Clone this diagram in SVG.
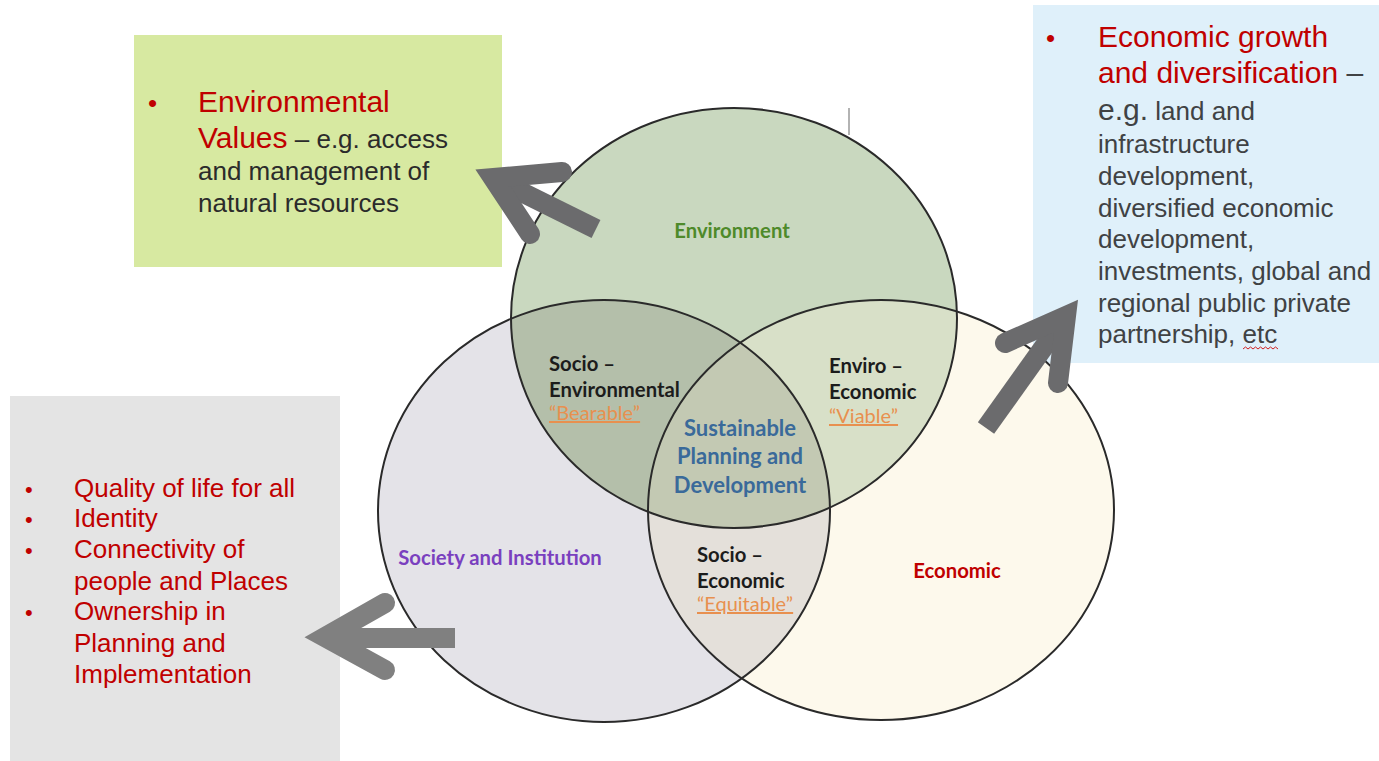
<svg xmlns="http://www.w3.org/2000/svg" width="1379" height="761" viewBox="0 0 1379 761">
<style>
.box-text{font-family:"Liberation Sans",Arial,sans-serif;}
.red{fill:#c00000;}
.dk{fill:#2b2b2b;}
.dg{fill:#404244;}
.lbl{font-family:Lato,"Open Sans",sans-serif;font-weight:bold;font-size:20.3px;fill:#1c1c1c;}
.q{font-family:Lato,"Open Sans",sans-serif;font-size:20px;fill:#e8904f;text-decoration:underline;}
.outline{fill:none;stroke:#2a2a2a;stroke-width:2;}
.barb{fill:none;stroke-linecap:round;stroke-linejoin:miter;stroke-width:20;}
.shaft{fill:none;stroke-linecap:butt;stroke-width:20;}
</style>
<defs>
<clipPath id="cEnv"><ellipse cx="734" cy="318" rx="223" ry="210"/></clipPath>
<clipPath id="cSoc"><ellipse cx="604" cy="511" rx="226" ry="211"/></clipPath>
<clipPath id="cEco"><ellipse cx="881" cy="510" rx="233" ry="210"/></clipPath>
</defs>
<rect width="1379" height="761" fill="#ffffff"/>

<g id="box-environment">
<rect x="134" y="35" width="368" height="232" fill="#d7e9a1"/>
<text class="box-text red" x="148" y="112" font-size="26">•</text>
<text class="box-text red" x="198" y="112" font-size="30">Environmental</text>
<text class="box-text" x="198" y="148"><tspan class="red" font-size="30">Values</tspan><tspan class="dk" font-size="26"> – e.g. access</tspan></text>
<text class="box-text dk" x="198" y="180" font-size="26">and management of</text>
<text class="box-text dk" x="198" y="212" font-size="26">natural resources</text>
</g>

<g id="box-economic">
<rect x="1033" y="5" width="346" height="358" fill="#dff0fa"/>
<text class="box-text red" x="1046" y="47" font-size="26">•</text>
<text class="box-text red" x="1098" y="47" font-size="30">Economic growth</text>
<text class="box-text" x="1098" y="83"><tspan class="red" font-size="30">and diversification</tspan><tspan class="dg" font-size="30"> –</tspan></text>
<text class="box-text dg" x="1098" y="120"><tspan font-size="30">e.g.</tspan><tspan font-size="26"> land and</tspan></text>
<text class="box-text dg" x="1098" y="153" font-size="26">infrastructure</text>
<text class="box-text dg" x="1098" y="185" font-size="26">development,</text>
<text class="box-text dg" x="1098" y="217" font-size="26">diversified economic</text>
<text class="box-text dg" x="1098" y="248" font-size="26">development,</text>
<text class="box-text dg" x="1098" y="280" font-size="26">investments, global and</text>
<text class="box-text dg" x="1098" y="312" font-size="26">regional public private</text>
<text class="box-text dg" x="1098" y="343" font-size="26">partnership, etc</text>
<path d="M1243 349 l2.5 -2 l2.5 2 l2.5 -2 l2.5 2 l2.5 -2 l2.5 2 l2.5 -2 l2.5 2 l2.5 -2 l2.5 2 l2.5 -2 l2.5 2 l2.5 -2 l2.5 2" fill="none" stroke="#d02020" stroke-width="1"/>
</g>

<g id="box-society">
<rect x="10" y="396" width="330" height="365" fill="#e4e4e4"/>
<g class="box-text red" font-size="26">
<text x="25" y="497" font-size="22">•</text>
<text x="74" y="497">Quality of life for all</text>
<text x="25" y="527" font-size="22">•</text>
<text x="74" y="527">Identity</text>
<text x="25" y="558" font-size="22">•</text>
<text x="74" y="558">Connectivity of</text>
<text x="74" y="590">people and Places</text>
<text x="25" y="620" font-size="22">•</text>
<text x="74" y="620">Ownership in</text>
<text x="74" y="652">Planning and</text>
<text x="74" y="683">Implementation</text>
</g>
</g>

<line x1="849" y1="108" x2="849" y2="135" stroke="#9a9a9a" stroke-width="1.5"/>

<g id="venn">
<ellipse id="circle-economic" cx="881" cy="510" rx="233" ry="210" fill="#fdf9ec"/>
<ellipse id="circle-society" cx="604" cy="511" rx="226" ry="211" fill="#e4e3e8"/>
<ellipse id="circle-environment" cx="734" cy="318" rx="223" ry="210" fill="#c9d8bf"/>
<g clip-path="url(#cEnv)"><ellipse cx="604" cy="511" rx="226" ry="211" fill="#b4bfaa"/></g>
<g clip-path="url(#cEnv)"><ellipse cx="881" cy="510" rx="233" ry="210" fill="#d8e0c8"/></g>
<g clip-path="url(#cSoc)"><ellipse cx="881" cy="510" rx="233" ry="210" fill="#e4e0da"/></g>
<g clip-path="url(#cEnv)"><g clip-path="url(#cSoc)"><ellipse cx="881" cy="510" rx="233" ry="210" fill="#c3c9b3"/></g></g>
<ellipse class="outline" cx="734" cy="318" rx="223" ry="210"/>
<ellipse class="outline" cx="604" cy="511" rx="226" ry="211"/>
<ellipse class="outline" cx="881" cy="510" rx="233" ry="210"/>
</g>

<g id="label-environment"><text x="732" y="238" text-anchor="middle" class="lbl" style="fill:#4e8a2a">Environment</text></g>
<g id="label-socio-environmental">
<text class="lbl" x="549" y="371">Socio –</text>
<text class="lbl" x="549" y="397">Environmental</text>
<text class="q" x="549" y="420">“Bearable”</text>
</g>
<g id="label-enviro-economic">
<text class="lbl" x="829" y="373">Enviro –</text>
<text class="lbl" x="829" y="399">Economic</text>
<text class="q" x="829" y="423">“Viable”</text>
</g>
<g id="label-sustainable">
<text class="lbl" x="740" y="436" text-anchor="middle" style="fill:#3a6a9a;font-size:22px">Sustainable</text>
<text class="lbl" x="740" y="464" text-anchor="middle" style="fill:#3a6a9a;font-size:22px">Planning and</text>
<text class="lbl" x="740" y="493" text-anchor="middle" style="fill:#3a6a9a;font-size:22px">Development</text>
</g>
<g id="label-socio-economic">
<text class="lbl" x="697" y="562">Socio –</text>
<text class="lbl" x="697" y="588">Economic</text>
<text class="q" x="697" y="611">“Equitable”</text>
</g>
<g id="label-society"><text class="lbl" x="500" y="565" text-anchor="middle" style="fill:#7a40bf">Society and Institution</text></g>
<g id="label-economic"><text class="lbl" x="957" y="578" text-anchor="middle" style="fill:#c00000">Economic</text></g>

<g id="connectors">
<g stroke="#6b6b6d">
<line class="shaft" x1="493" y1="178" x2="596" y2="229"/>
<polyline class="barb" points="562,172 493,178 530,234"/>
</g>
<g stroke="#6b6b6d">
<line class="shaft" x1="1066" y1="316" x2="986" y2="428"/>
<polyline class="barb" points="1005,343 1066,316 1058,383"/>
</g>
<g stroke="#808080">
<line class="shaft" x1="325" y1="638" x2="455" y2="638"/>
<polyline class="barb" points="385,603 325,637 385,670"/>
</g>
</g>
</svg>
